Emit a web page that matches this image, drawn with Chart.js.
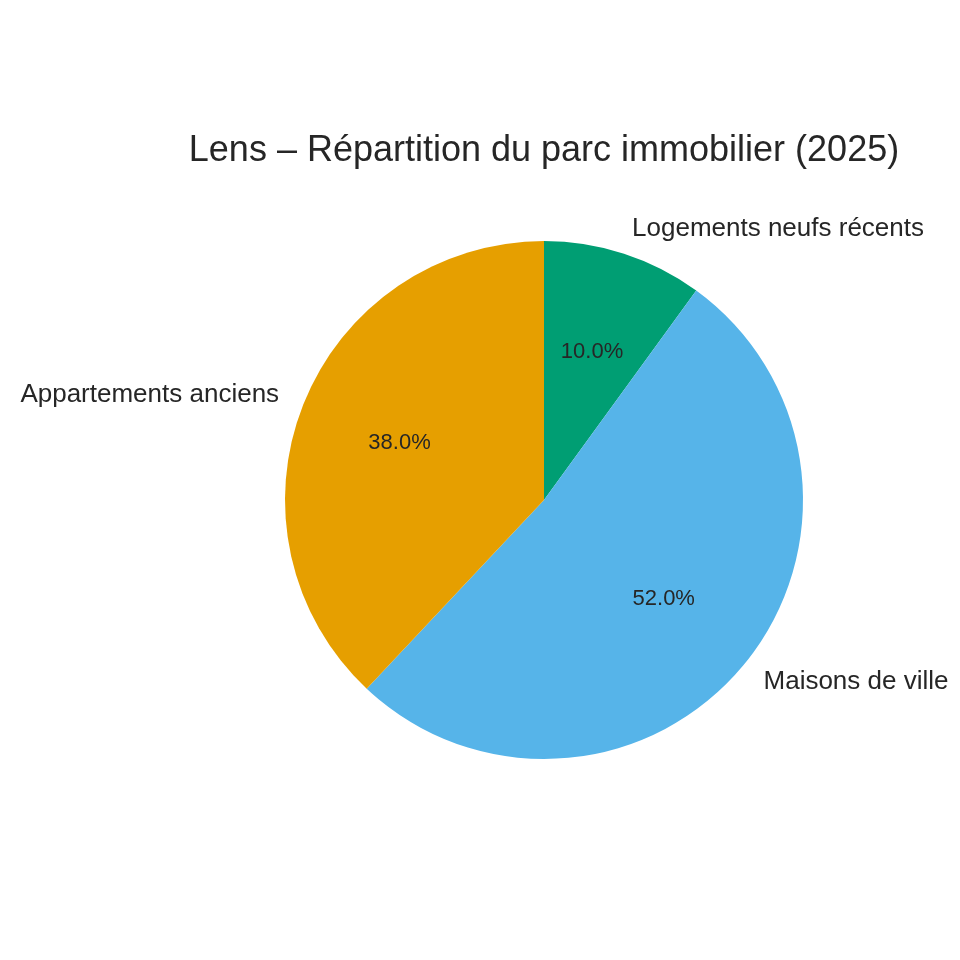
<!DOCTYPE html>
<html>
<head>
<meta charset="utf-8">
<script src="https://cdn.jsdelivr.net/npm/chart.js@4"></script>
<style>
  body { margin: 0; background: #fff; }
  #wrap { width: 960px; height: 960px; position: relative; }
</style>
</head>
<body>
<div id="wrap"><canvas id="pieChart"></canvas></div>
<script>
const title = 'Lens – Répartition du parc immobilier (2025)'
const categories = ['Logements neufs récents', 'Maisons de ville', 'Appartements anciens']
const values = [10, 52, 38]
const colors = ['#009e73', '#56b4e9', '#e69f00']

// draws outer labels and percentages like matplotlib does
const pieLabels = {
	id: 'pieLabels',
	afterDatasetsDraw(chart) {
		const ctx = chart.ctx
		const arcs = chart.getDatasetMeta(0).data
		const total = values.reduce((a, b) => a + b, 0)
		ctx.save()
		arcs.forEach((arc, i) => {
			const mid = (arc.startAngle + arc.endAngle) / 2
			const r = arc.outerRadius
			const cx = arc.x, cy = arc.y
			// category label
			const lx = cx + Math.cos(mid) * r * 1.1
			const ly = cy + Math.sin(mid) * r * 1.1
			ctx.font = '26px "Liberation Sans", Arial, sans-serif'
			ctx.fillStyle = '#262626'
			ctx.textBaseline = 'middle'
			ctx.textAlign = lx >= cx ? 'left' : 'right'
			ctx.fillText(categories[i], lx, ly)
			// percentage
			const px = cx + Math.cos(mid) * r * 0.6
			const py = cy + Math.sin(mid) * r * 0.6
			ctx.font = '22px "Liberation Sans", Arial, sans-serif'
			ctx.textAlign = 'center'
			ctx.fillText((values[i] / total * 100).toFixed(1) + '%', px, py)
		})
		// title
		ctx.font = '36px "Liberation Sans", Arial, sans-serif'
		ctx.fillStyle = '#262626'
		ctx.textAlign = 'center'
		ctx.textBaseline = 'middle'
		ctx.fillText(title, 544, 151)
		ctx.restore()
	}
}

new Chart(document.getElementById('pieChart'), {
	type: 'pie',
	data: {
		labels: categories,
		datasets: [{
			data: values,
			backgroundColor: colors,
			borderWidth: 0
		}]
	},
	options: {
		responsive: true,
		maintainAspectRatio: false,
		animation: false,
		layout: {
			padding: { left: 285, right: 157, top: 241, bottom: 201 }
		},
		plugins: {
			legend: { display: false },
			tooltip: { enabled: false }
		}
	},
	plugins: [pieLabels]
})
</script>
</body>
</html>
